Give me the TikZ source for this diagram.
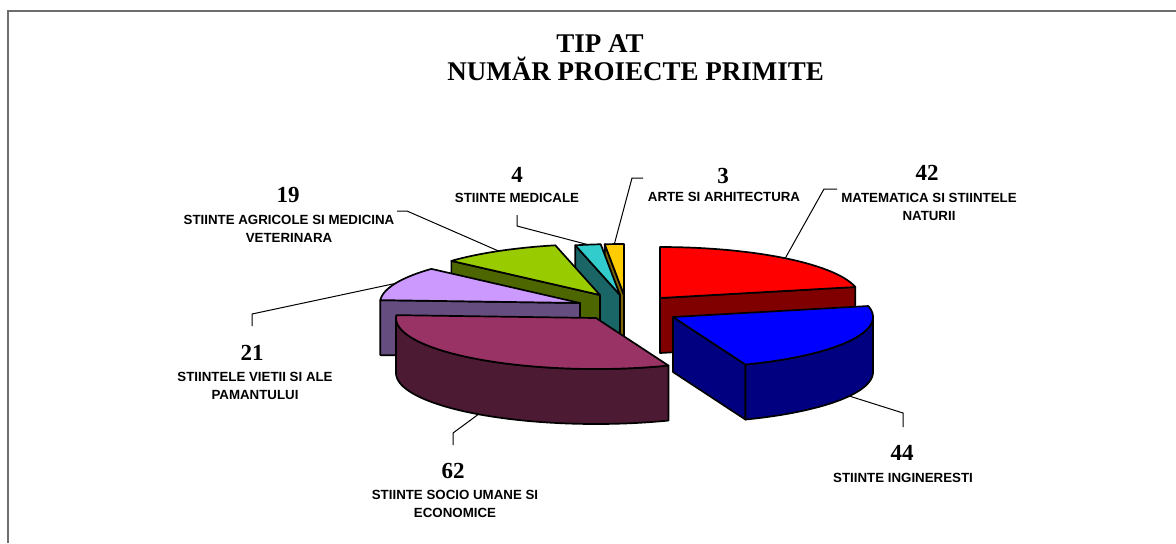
\documentclass[tikz,border=0pt]{standalone}
\usepackage{fontspec}
\setmainfont{Liberation Serif}
\newfontfamily\lblfont{Liberation Sans}
\definecolor{cRed}{HTML}{FF0000}\definecolor{cRedS}{HTML}{800000}
\definecolor{cBlue}{HTML}{0000FF}\definecolor{cBlueS}{HTML}{000080}
\definecolor{cPur}{HTML}{993366}\definecolor{cPurS}{HTML}{4C1A33}
\definecolor{cLil}{HTML}{CC99FF}\definecolor{cLilS}{HTML}{664D80}
\definecolor{cGrn}{HTML}{99CC00}\definecolor{cGrnS}{HTML}{4D6600}
\definecolor{cTea}{HTML}{33CCCC}\definecolor{cTeaS}{HTML}{1A6666}
\definecolor{cYel}{HTML}{FFCC00}\definecolor{cYelS}{HTML}{806600}
\definecolor{frame}{HTML}{6E6E6E}
\def\pcRX{200}\def\pcRY{51}\def\pcDP{55}
\newcommand\pcTop[5]{\filldraw[fill=#5,slice] (#1,#2) -- plot[domain=#3:#4] ({#1+\pcRX*cos(\x)},{#2-\pcRY*sin(\x)}) -- cycle;}
\newcommand\pcCut[4]{\filldraw[fill=#4,slice] (#1,#2) -- ({#1+\pcRX*cos(#3)},{#2-\pcRY*sin(#3)}) -- ++(0,\pcDP) -- (#1,{#2+\pcDP}) -- cycle;}
\newcommand\pcWall[5]{\filldraw[fill=#5,slice] plot[domain=#3:#4] ({#1+\pcRX*cos(\x)},{#2-\pcRY*sin(\x)}) -- plot[domain=#4:#3] ({#1+\pcRX*cos(\x)},{#2+\pcDP-\pcRY*sin(\x)}) -- cycle;}
\begin{document}
\begin{tikzpicture}[x=0.5pt,y=-0.5pt,
  slice/.style={draw=black,line width=0.85pt,line join=round,samples=60,variable=\x},
  leader/.style={draw=black,line width=0.5pt},
  titletext/.style={anchor=base,inner sep=0pt,font=\fontsize{13.5}{14}\selectfont\bfseries},
  numtext/.style={anchor=base,inner sep=0pt,font=\fontsize{11.5}{12}\selectfont\bfseries},
  lbltext/.style={anchor=north,inner sep=0pt,align=center,font=\lblfont\bfseries\fontsize{6.65}{9}\selectfont}]
\useasboundingbox (0,0) rectangle (1176,543);
\fill[white] (0,0) rectangle (1176,543);
\draw[frame,line width=1pt] (7.5,543) -- (7.5,10.5) -- (1176,10.5);

% title
\node[titletext] (t1) at (600,52) {TIP AT};
\node[titletext,anchor=base west] (t2) at (447,80) {NUMĂR PROIECTE PRIMITE};

% slices, back to front
% yellow 3 : 90 .. 95.54
\pcCut{624}{295}{95.54}{cYelS}
\pcTop{624}{295}{90}{95.54}{cYel}
% teal 4 : 95.54 .. 102.92
\pcCut{620}{295}{102.92}{cTeaS}
\pcTop{620}{295}{95.54}{102.92}{cTea}
% green 19 : 102.92 .. 138
\pcCut{600}{295}{138}{cGrnS}
\pcTop{600}{295}{102.92}{138}{cGrn}
% lilac 21 : 138 .. 176.77
\pcCut{580}{303}{176.77}{cLilS}
\pcTop{580}{303}{138}{176.77}{cLil}
% red 42 : 12.46 .. 90
\pcCut{660}{298}{12.46}{cRedS}
\pcTop{660}{298}{12.46}{90}{cRed}
% purple 62 : 176.77 .. 291.23
\pcWall{596}{318}{180}{291.23}{cPurS}
\pcTop{596}{318}{176.77}{291.23}{cPur}
% blue 44 : -68.77 .. 12.46
\pcCut{673}{317}{-68.77}{cBlueS}
\pcWall{673}{317}{-68.77}{0}{cBlueS}
\pcTop{673}{317}{-68.77}{12.46}{cBlue}

% leader anchor points on slices
\coordinate (pYel) at ({624+200*cos(92.77)},{295-51*sin(92.77)});
\coordinate (pTea) at ({620+200*cos(99.23)},{295-51*sin(99.23)});
\coordinate (pGrn) at ({600+200*cos(120.46)},{295-51*sin(120.46)});
\coordinate (pLil) at ({580+200*cos(157.4)},{303-51*sin(157.4)});
\coordinate (pRed) at ({660+200*cos(51.23)},{298-51*sin(51.23)});
\coordinate (pPur) at ({596+200*cos(234)},{318+55-51*sin(234)});
\coordinate (pBlue) at ({673+200*cos(-28.15)},{317+55-51*sin(-28.15)});

% leader bends and ends
\coordinate (bYel) at (632,178); \coordinate (eYel) at (643,178);
\coordinate (bTea) at (517,226); \coordinate (eTea) at (517,215);
\coordinate (bGrn) at (407,211); \coordinate (eGrn) at (397,211);
\coordinate (bLil) at (252,314); \coordinate (eLil) at (252,326);
\coordinate (bRed) at (824,189); \coordinate (eRed) at (837,189);
\coordinate (bPur) at (453,433); \coordinate (ePur) at (453,445);
\coordinate (bBlue) at (903,413); \coordinate (eBlue) at (903,427);
\draw[leader] (pYel) -- (bYel) -- (eYel);
\draw[leader] (pTea) -- (bTea) -- (eTea);
\draw[leader] (pGrn) -- (bGrn) -- (eGrn);
\draw[leader] (pLil) -- (bLil) -- (eLil);
\draw[leader] (pRed) -- (bRed) -- (eRed);
\draw[leader] (pPur) -- (bPur) -- (ePur);
\draw[leader] (pBlue) -- (bBlue) -- (eBlue);

% values
\node[numtext] (n42) at (927,180) {42};
\node[numtext] (n3) at (723,183) {3};
\node[numtext] (n4) at (517,182) {4};
\node[numtext] (n19) at (288,202) {19};
\node[numtext] (n21) at (252,360) {21};
\node[numtext] (n62) at (453,478) {62};
\node[numtext] (n44) at (902,460) {44};

% labels
\node[lbltext] (l42) at (929,193) {MATEMATICA SI STIINTELE\\NATURII};
\node[lbltext] (l3) at (724,192) {ARTE SI ARHITECTURA};
\node[lbltext] (l4) at (517,193) {STIINTE MEDICALE};
\node[lbltext] (l19) at (289,215) {STIINTE AGRICOLE SI MEDICINA\\VETERINARA};
\node[lbltext] (l21) at (255,372) {STIINTELE VIETII SI ALE\\PAMANTULUI};
\node[lbltext] (l62) at (455,490) {STIINTE SOCIO UMANE SI\\ECONOMICE};
\node[lbltext] (l44) at (903,473) {STIINTE INGINERESTI};
\end{tikzpicture}
\end{document}
